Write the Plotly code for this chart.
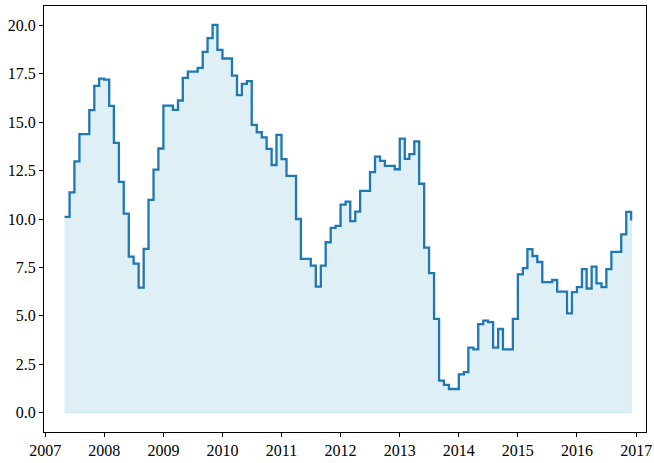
import pandas as pd
import plotly.graph_objects as go

start_month = "2007-05-01"
values = [
    10.11, 11.38, 12.98, 14.38, 14.38, 15.62, 16.87, 17.25, 17.20, 15.84,
    13.93, 11.92, 10.28, 8.06, 7.70, 6.46, 8.46, 10.99, 12.55, 13.64,
    15.86, 15.86, 15.64, 16.12, 17.29, 17.61, 17.61, 17.80, 18.63, 19.34,
    20.03, 18.73, 18.29, 18.29, 17.40, 16.40, 16.98, 17.12, 14.86, 14.48,
    14.22, 13.62, 12.79, 14.34, 13.09, 12.23, 12.23, 10.00, 7.94, 7.94,
    7.59, 6.51, 7.59, 8.80, 9.54, 9.64, 10.74, 10.90, 9.89, 10.38,
    11.45, 11.45, 12.42, 13.22, 13.00, 12.74, 12.74, 12.57, 14.15, 13.10,
    13.35, 14.01, 11.82, 8.52, 7.20, 4.84, 1.65, 1.43, 1.22, 1.22,
    1.98, 2.09, 3.36, 3.27, 4.57, 4.75, 4.67, 3.36, 4.32, 3.27,
    3.27, 4.84, 7.14, 7.46, 8.44, 8.09, 7.78, 6.74, 6.74, 6.85,
    6.25, 6.25, 5.13, 6.22, 6.48, 7.41, 6.41, 7.54, 6.68, 6.48,
    7.41, 8.30, 8.30, 9.21, 10.37, 9.92,
]
dates = pd.date_range(start_month, periods=len(values), freq="MS")
year_ticks = [str(y) for y in range(2007, 2018)]
y_ticks = [0.0, 2.5, 5.0, 7.5, 10.0, 12.5, 15.0, 17.5, 20.0]

fill_x = list(dates) + [dates[-1], dates[0]]
fill_y = list(values) + [0.0, 0.0]

fig = go.Figure()
fig.add_trace(go.Scatter(
    x=fill_x, y=fill_y, mode="lines", line_shape="hv",
    fill="toself", fillcolor="rgba(173,216,230,0.4)",
    line=dict(color="rgba(173,216,230,0.55)", width=1),
    hoverinfo="skip", showlegend=False,
))
fig.add_trace(go.Scatter(
    x=dates, y=values, mode="lines", line_shape="hv",
    line=dict(color="#1f77b4", width=2.3), showlegend=False,
))

font = dict(family="Liberation Serif", size=16, color="black")
fig.update_layout(
    template="none",
    width=654, height=463,
    margin=dict(l=44, r=8, t=6, b=31, autoexpand=False),
    paper_bgcolor="white", plot_bgcolor="white",
    font=font,
)
fig.update_xaxes(
    type="date", automargin=False,
    range=["2006-12-25", "2017-03-03"],
    tickvals=[f"{y}-01-01" for y in year_ticks],
    ticktext=year_ticks,
    showgrid=False, zeroline=False,
    showline=True, linecolor="black", linewidth=1.3, mirror=True,
    ticks="outside", ticklen=4, tickcolor="black", tickwidth=1,
    tickfont=font,
)
fig.update_yaxes(
    automargin=False,
    range=[-1, 21],
    tickvals=y_ticks,
    ticktext=[f"{v:.1f}" for v in y_ticks],
    showgrid=False, zeroline=False,
    showline=True, linecolor="black", linewidth=1.3, mirror=True,
    ticks="outside", ticklen=4, tickcolor="black", tickwidth=1,
    tickfont=font,
)
fig.write_html(
    "out.html",
    config={"displayModeBar": False},
    post_script="document.body.style.margin='0';",
)
